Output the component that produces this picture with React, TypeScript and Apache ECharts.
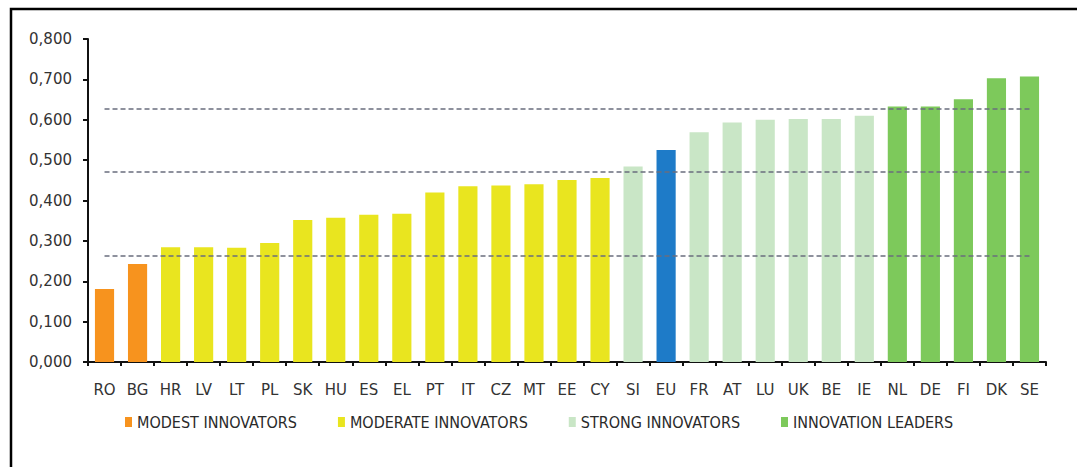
import React, { useEffect, useRef } from "react";
import * as echarts from "echarts";

const categories = ["RO","BG","HR","LV","LT","PL","SK","HU","ES","EL","PT","IT","CZ","MT","EE","CY","SI","EU","FR","AT","LU","UK","BE","IE","NL","DE","FI","DK","SE"];
const values = [0.181,0.243,0.284,0.284,0.283,0.295,0.352,0.357,0.365,0.367,0.420,0.435,0.437,0.440,0.451,0.456,0.484,0.525,0.569,0.593,0.600,0.602,0.602,0.610,0.633,0.633,0.651,0.703,0.707];
// group index per category: 0 modest, 1 moderate, 2 strong, 3 leaders, 4 EU
const groupOf = [0,0,1,1,1,1,1,1,1,1,1,1,1,1,1,1,2,4,2,2,2,2,2,2,3,3,3,3,3];
const groupNames = ["MODEST INNOVATORS","MODERATE INNOVATORS","STRONG INNOVATORS","INNOVATION LEADERS","EU"];
const groupColors = ["#F7931E","#E9E51F","#C9E6C6","#7DC95B","#1E7BC8"];
const thresholds = [0.628, 0.471, 0.262];
const yTicks = { min: 0, max: 0.8, interval: 0.1 };

export default function App() {
  const ref = useRef<HTMLDivElement>(null);
  useEffect(() => {
    if (!ref.current) return;
    const chart = echarts.init(ref.current, null, { renderer: "svg" });
    const font = "'DejaVu Sans', sans-serif";
    const condensed = "'DejaVu Sans Condensed', 'DejaVu Sans', sans-serif";
    const series: any[] = groupNames.map((name, g) => ({
      name,
      type: "bar",
      stack: "all",
      barCategoryGap: "42%",
      itemStyle: { color: groupColors[g] },
      data: values.map((v, i) => (groupOf[i] === g ? v : "-")),
    }));
    series[0].markLine = {
      silent: true,
      symbol: "none",
      label: { show: false },
      lineStyle: { color: "#6A6E7E", type: [5, 3], width: 1.5 },
      data: thresholds.map((t) => [
        { coord: [categories[0], t] },
        { coord: [categories[categories.length - 1], t] },
      ]),
    };
    chart.setOption({
      animation: false,
      backgroundColor: "#ffffff",
      textStyle: { fontFamily: font },
      grid: { left: 88, right: 31, top: 39, bottom: 105 },
      legend: {
        data: groupNames.slice(0, 4),
        left: 120,
        top: 409,
        itemWidth: 7,
        itemHeight: 10,
        itemGap: 41,
        icon: "rect",
        textStyle: { fontFamily: condensed, fontSize: 16, color: "#2a2a2a" },
      },
      xAxis: {
        type: "category",
        data: categories,
        axisLine: { lineStyle: { color: "#111", width: 2 } },
        axisTick: { show: true, length: 4, lineStyle: { color: "#111", width: 2 } },
        axisLabel: { fontFamily: font, fontSize: 15, color: "#333", margin: 20 },
      },
      yAxis: {
        type: "value",
        min: yTicks.min,
        max: yTicks.max,
        interval: yTicks.interval,
        axisLine: { show: true, lineStyle: { color: "#111", width: 2 } },
        axisTick: { show: true, length: 5, lineStyle: { color: "#111", width: 2 } },
        splitLine: { show: false },
        axisLabel: {
          fontFamily: font,
          fontSize: 15,
          color: "#333",
          margin: 16,
          formatter: (v: number) => v.toFixed(3).replace(".", ","),
        },
      },
      graphic: [
        {
          type: "rect",
          shape: { x: 11, y: 9, width: 1200, height: 600 },
          style: { fill: "none", stroke: "#000", lineWidth: 2.5 },
          silent: true,
        },
      ],
      series,
    });
    return () => chart.dispose();
  }, []);
  return (
    <div
      ref={ref}
      style={{ position: "fixed", left: 0, top: 0, width: 1077, height: 467 }}
    />
  );
}
